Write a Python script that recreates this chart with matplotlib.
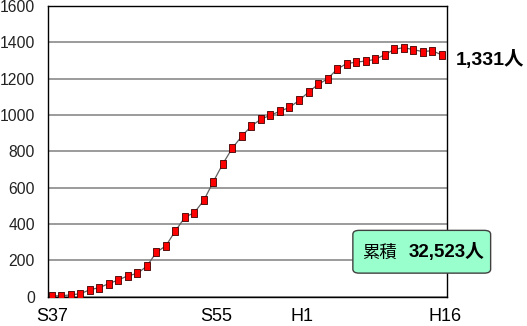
import numpy as np
import matplotlib
matplotlib.use('Agg')
import matplotlib.pyplot as plt
from matplotlib.patches import FancyBboxPatch

# staff count per year, S37 .. H16
values = [5, 5, 10, 16, 38, 50, 72, 92, 115, 128, 168, 244, 280, 362, 437, 463,
          531, 634, 732, 819, 884, 940, 977, 999, 1021, 1042, 1080, 1126, 1168,
          1199, 1252, 1283, 1291, 1297, 1306, 1331, 1361, 1371, 1360, 1349, 1354, 1331]
xlabels = ['S37', 'S55', 'H1', 'H16']
label_pos = [0, 17.3, 26.3, 41.4]
yticks = [0, 200, 400, 600, 800, 1000, 1200, 1400, 1600]
last_label = '1,331人'
total_head = '累積'
total_value = '32,523人'

sans = ['Liberation Sans', 'Noto Sans CJK JP', 'DejaVu Sans']
cjk = ['Noto Sans CJK JP', 'DejaVu Sans']

# slightly tall rectangle marker
rect = [(-0.8, -1), (0.8, -1), (0.8, 1), (-0.8, 1), (-0.8, -1)]

fig = plt.figure(figsize=(5.27, 3.26), dpi=100)
ax = fig.add_axes([0.0917, 0.0899, 0.7559, 0.8917])

x = np.arange(len(values))
ax.plot(x, values, '-', color='#606060', lw=0.9, zorder=3)
ax.plot(x, values, ls='none', marker=rect, ms=5.3, mfc='#ff0000', mec='#400000',
        mew=0.6, zorder=4)

ax.set_xlim(-0.36, 41.53)
ax.set_ylim(0, 1600)
ax.set_yticks(yticks)
ax.set_yticklabels([str(v) for v in yticks], family=sans, fontsize=11.3,
                   color='#222222')
ax.set_xticks(label_pos)
ax.set_xticklabels(xlabels, family=sans, fontsize=13)
ax.tick_params(axis='y', length=0, pad=9.6)
ax.tick_params(axis='x', length=0, pad=8.4)
ax.grid(axis='y', color='#808080', lw=1.1)
ax.set_axisbelow(True)
for s in ax.spines.values():
    s.set_color('black')
    s.set_linewidth(1.0)

fig.text(456 / 527, 1 - 60 / 326, last_label, family=sans, fontsize=14,
         fontweight='bold', ha='left', va='center')

box = FancyBboxPatch((355.5 / 527, 1 - 271.5 / 326), 132.5 / 527, 39.5 / 326,
                     boxstyle='round,pad=0.005,rounding_size=0.012',
                     transform=fig.transFigure, fc='#99ffcc', ec='#404040',
                     lw=1.0, zorder=5)
fig.patches.append(box)
fig.text(361.7 / 527, 1 - 252.5 / 326, total_head, family=cjk, fontsize=12.5,
         ha='left', va='center', zorder=6)
fig.text(408.3 / 527, 1 - 252.5 / 326, total_value, family=sans, fontsize=13.5,
         fontweight='bold', ha='left', va='center', zorder=6)

fig.savefig('out.png', dpi=100)
